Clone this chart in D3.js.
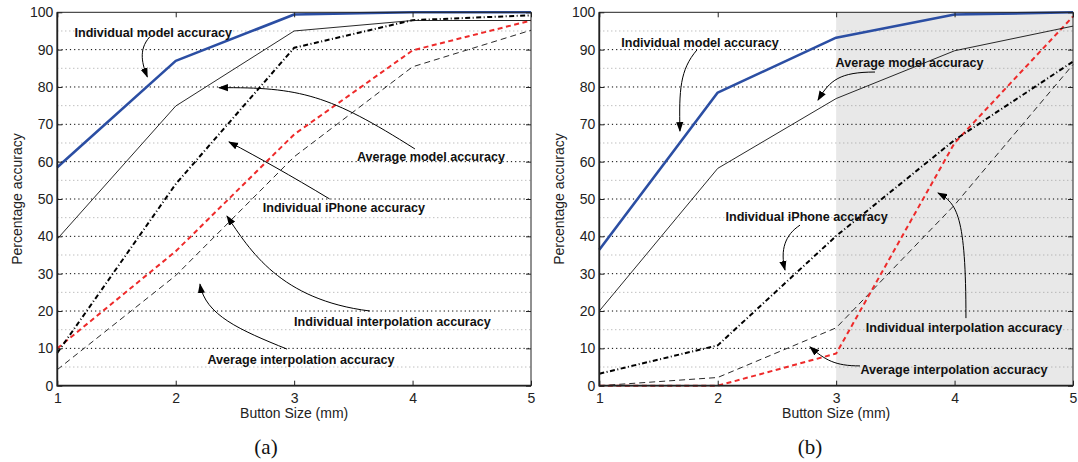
<!DOCTYPE html>
<html>
<head>
<meta charset="utf-8">
<script src="https://cdn.jsdelivr.net/npm/d3@7"></script>
<style>
  body { margin: 0; background: #fff; }
  svg { display: block; }
</style>
</head>
<body>
<script>
const buttonSizes = [1, 2, 3, 4, 5]
const yTickValues = [0, 10, 20, 30, 40, 50, 60, 70, 80, 90, 100]
const majorGrid = [10, 20, 30, 40, 50, 60, 70, 80, 90]
const minorGrid = [5, 15, 25, 35, 45, 55, 65, 75, 85, 95]

// panel (a)
const aIndividualModel = [58.5, 87.0, 99.4, 100, 100]
const aAverageModel = [39.3, 74.9, 95.0, 97.8, 97.8]
const aIndividualIPhone = [8.8, 54.0, 90.5, 97.9, 99.2]
const aIndividualInterp = [10.0, 36.0, 67.3, 89.8, 97.8]
const aAverageInterp = [4.3, 29.5, 61.3, 85.4, 95.2]

// panel (b)
const bIndividualModel = [36.4, 78.5, 93.2, 99.4, 100]
const bAverageModel = [20.0, 58.2, 76.9, 89.7, 96.3]
const bIndividualIPhone = [3.2, 10.8, 40.1, 65.8, 86.8]
const bIndividualInterp = [0, 0, 8.6, 65.0, 98.9]
const bAverageInterp = [0, 2.2, 15.5, 48.4, 86.0]

// annotations, in data units: label centre + cubic arrow (start, c1, c2, tip)
const aNotes = [
  { text: 'Individual model accuracy', at: [1.81, 94.7], arrow: [[1.78, 93.4], [1.68, 89.9], [1.72, 85.9], [1.76, 82.7]] },
  { text: 'Average model accuracy', at: [4.155, 61.3], arrow: [[4.02, 63.4], [3.30, 77.9], [3.05, 80.0], [2.365, 79.8]] },
  { text: 'Individual iPhone accuracy', at: [3.42, 47.6], arrow: [[3.30, 50.0], [2.965, 56.4], [2.71, 60.9], [2.45, 65.3]] },
  { text: 'Individual interpolation accuracy', at: [3.83, 17.1], arrow: [[3.64, 20.0], [2.88, 23.0], [2.627, 36.3], [2.433, 45.4]] },
  { text: 'Average interpolation accuracy', at: [3.058, 6.9], arrow: [[2.94, 9.8], [2.543, 14.9], [2.248, 18.9], [2.205, 27.2]] }
]
const bNotes = [
  { text: 'Individual model accuracy', at: [1.85, 91.8], arrow: [[1.824, 89.9], [1.681, 84.6], [1.673, 79.2], [1.681, 68.2]] },
  { text: 'Average model accuracy', at: [3.62, 86.4], arrow: [[3.328, 84.0], [3.033, 84.0], [2.948, 81.9], [2.847, 76.5]] },
  { text: 'Individual iPhone accuracy', at: [2.751, 45.2], arrow: [[2.695, 43.0], [2.568, 40.4], [2.526, 36.3], [2.568, 31.0]] },
  { text: 'Individual interpolation accuracy', at: [4.08, 15.5], arrow: [[4.096, 18.1], [4.096, 45.7], [4.02, 48.9], [3.86, 51.6]] },
  { text: 'Average interpolation accuracy', at: [3.995, 4.2], arrow: [[3.201, 5.3], [2.99, 5.3], [2.906, 6.9], [2.779, 10.4]] }
]

const styles = {
  individualModel: { stroke: '#2b4ea3', width: 2.6, dash: null },
  averageModel: { stroke: '#111', width: 0.9, dash: null },
  individualIPhone: { stroke: '#000', width: 2, dash: '5,2.5,1,2.5' },
  individualInterp: { stroke: '#ee2a2a', width: 2, dash: '5,3.5' },
  averageInterp: { stroke: '#111', width: 0.9, dash: '6,4' }
}

const panels = [
  {
    left: 57.3, right: 531, caption: '(a)', captionX: 266, shadeFrom: null,
    series: {
      averageInterp: aAverageInterp, individualInterp: aIndividualInterp,
      individualIPhone: aIndividualIPhone, averageModel: aAverageModel, individualModel: aIndividualModel
    },
    notes: aNotes
  },
  {
    left: 599.3, right: 1073, caption: '(b)', captionX: 810, shadeFrom: 3,
    series: {
      averageInterp: bAverageInterp, individualInterp: bIndividualInterp,
      individualIPhone: bIndividualIPhone, averageModel: bAverageModel, individualModel: bIndividualModel
    },
    notes: bNotes
  }
]

const W = 1078, H = 462
const TOP = 12.3, BOTTOM = 385.7
const FONT = '"Liberation Sans", Arial, Helvetica, sans-serif'

const svg = d3.select('body').append('svg')
  .attr('width', W)
  .attr('height', H)
  .attr('viewBox', `0 0 ${W} ${H}`)
  .style('font-family', FONT)

svg.append('rect').attr('width', W).attr('height', H).attr('fill', '#fff')

svg.append('defs').append('marker')
  .attr('id', 'head')
  .attr('markerUnits', 'userSpaceOnUse')
  .attr('viewBox', '0 -4 10 8')
  .attr('refX', 9)
  .attr('refY', 0)
  .attr('markerWidth', 10)
  .attr('markerHeight', 8)
  .attr('orient', 'auto')
  .append('path')
  .attr('d', 'M0,-3.6L10,0L0,3.6Z')
  .attr('fill', '#000')

const y = d3.scaleLinear().domain([0, 100]).range([BOTTOM, TOP])

panels.forEach(p => {
  const x = d3.scaleLinear().domain([1, 5]).range([p.left, p.right])
  const g = svg.append('g')

  if (p.shadeFrom !== null) {
    g.append('rect')
      .attr('x', x(p.shadeFrom))
      .attr('y', y(100))
      .attr('width', x(5) - x(p.shadeFrom))
      .attr('height', y(0) - y(100))
      .attr('fill', '#e8e8e8')
  }

  // grid
  g.selectAll('.minor')
    .data(minorGrid)
    .join('line')
    .attr('x1', x(1)).attr('x2', x(5))
    .attr('y1', d => y(d)).attr('y2', d => y(d))
    .attr('stroke', '#9a9a9a')
    .attr('stroke-width', 0.9)
    .attr('stroke-dasharray', '1,3')

  g.selectAll('.major')
    .data(majorGrid)
    .join('line')
    .attr('x1', x(1)).attr('x2', x(5))
    .attr('y1', d => y(d)).attr('y2', d => y(d))
    .attr('stroke', '#000')
    .attr('stroke-width', 1)
    .attr('stroke-dasharray', '1.2,3')

  // series
  const line = d3.line().x((d, i) => x(buttonSizes[i])).y(d => y(d))
  Object.entries(p.series).forEach(([key, values]) => {
    const s = styles[key]
    g.append('path')
      .attr('d', line(values))
      .attr('fill', 'none')
      .attr('stroke', s.stroke)
      .attr('stroke-width', s.width)
      .attr('stroke-dasharray', s.dash)
      .attr('stroke-linejoin', 'round')
  })

  // frame
  g.append('rect')
    .attr('x', x(1)).attr('y', y(100))
    .attr('width', x(5) - x(1)).attr('height', y(0) - y(100))
    .attr('fill', 'none')
    .attr('stroke', '#222')
    .attr('stroke-width', 1)
  g.append('path')
    .attr('d', `M${x(1)},${y(100)}V${y(0)}H${x(5)}`)
    .attr('fill', 'none')
    .attr('stroke', '#222')
    .attr('stroke-width', 1.8)

  // axes
  const axL = g.append('g')
    .attr('transform', `translate(${x(1)},0)`)
    .call(d3.axisLeft(y).tickValues(yTickValues).tickSize(-5).tickPadding(4))
  const axR = g.append('g')
    .attr('transform', `translate(${x(5)},0)`)
    .call(d3.axisRight(y).tickValues(yTickValues).tickSize(-5).tickFormat(''))
  const axB = g.append('g')
    .attr('transform', `translate(0,${y(0)})`)
    .call(d3.axisBottom(x).tickValues(buttonSizes).tickSize(-5).tickPadding(7).tickFormat(d3.format('d')))
  const axT = g.append('g')
    .attr('transform', `translate(0,${y(100)})`)
    .call(d3.axisTop(x).tickValues(buttonSizes).tickSize(-5).tickFormat(''))

  ;[axL, axR, axB, axT].forEach(a => {
    a.select('.domain').remove()
    a.selectAll('line').attr('stroke', '#222')
    a.selectAll('text')
      .attr('fill', '#222')
      .style('font-size', '14px')
      .style('font-family', FONT)
  })

  // axis titles
  g.append('text')
    .attr('transform', `translate(${x(1) - 40},${(y(0) + y(100)) / 2}) rotate(-90)`)
    .attr('text-anchor', 'middle')
    .attr('dy', '0.35em')
    .attr('fill', '#222')
    .style('font-size', '14px')
    .text('Percentage accuracy')

  g.append('text')
    .attr('x', (x(1) + x(5)) / 2)
    .attr('y', 413)
    .attr('text-anchor', 'middle')
    .attr('dy', '0.35em')
    .attr('fill', '#222')
    .style('font-size', '14px')
    .text('Button Size (mm)')

  g.append('text')
    .attr('x', p.captionX)
    .attr('y', 447)
    .attr('text-anchor', 'middle')
    .attr('dy', '0.35em')
    .attr('fill', '#111')
    .style('font-family', '"Liberation Serif", "Times New Roman", serif')
    .style('font-size', '21px')
    .text(p.caption)

  // annotations
  p.notes.forEach(n => {
    const [p0, c1, c2, p3] = n.arrow
    const path = d3.path()
    path.moveTo(x(p0[0]), y(p0[1]))
    path.bezierCurveTo(x(c1[0]), y(c1[1]), x(c2[0]), y(c2[1]), x(p3[0]), y(p3[1]))
    g.append('path')
      .attr('d', path.toString())
      .attr('fill', 'none')
      .attr('stroke', '#000')
      .attr('stroke-width', 1)
      .attr('marker-end', 'url(#head)')

    g.append('text')
      .attr('x', x(n.at[0]))
      .attr('y', y(n.at[1]))
      .attr('text-anchor', 'middle')
      .attr('dy', '0.35em')
      .attr('fill', '#111')
      .style('font-size', '12.6px')
      .style('font-weight', 'bold')
      .text(n.text)
  })
})
</script>
</body>
</html>
